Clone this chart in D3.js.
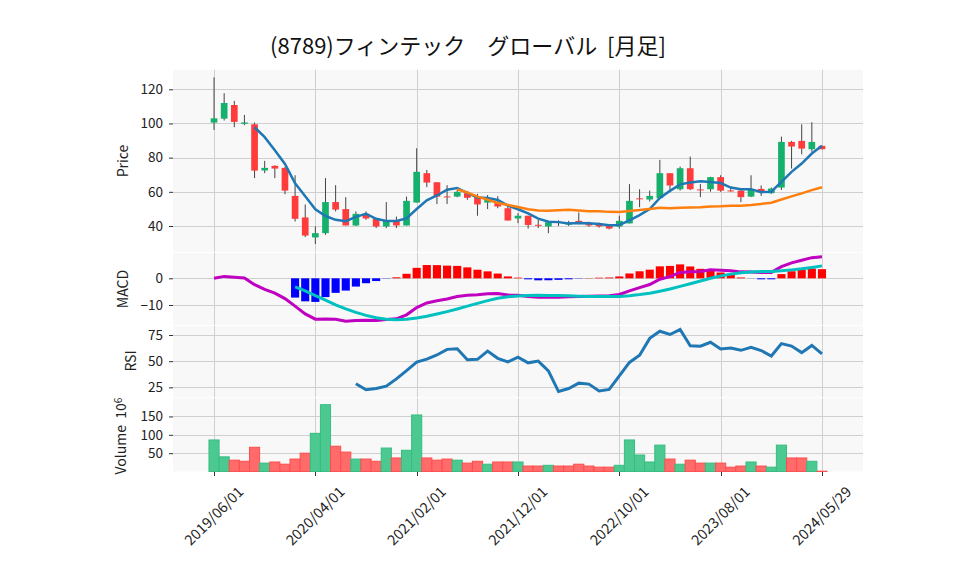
<!DOCTYPE html>
<meta charset="utf-8">
<body style="margin:0;background:#fff">
<script src="https://d3js.org/d3.v7.min.js"></script>
<script>
// monthly OHLC, 2019/06 .. 2024/05/29
var opens  = [100.5,102.8,110.8,99.8,99.5,72.5,75.2,74.0,57.6,45.0,
              33.3,35.8,54.0,49.9,40.3,47.1,44.2,39.7,43.2,40.3,
              53.7,70.9,65.6,57.3,57.2,59.2,57.2,53.7,53.4,50.4,
              44.4,46.0,40.7,39.7,42.4,40.8,43.0,41.7,41.3,40.5,
              39.7,41.5,56.2,55.5,56.3,70.9,61.5,73.8,61.4,61.5,
              68.6,60.8,60.7,57.2,61.7,59.2,62.5,89.2,89.8,84.9,86.9];
var highs  = [127.0,117.7,113.2,105.0,100.5,78.1,75.5,74.5,69.7,52.6,
              39.7,68.0,63.9,56.9,48.5,48.5,44.6,54.0,45.5,57.2,
              85.5,72.8,65.6,63.9,61.1,60.5,58.8,58.1,57.4,52.4,
              47.5,46.0,43.6,43.0,43.3,43.0,47.9,42.5,42.0,41.0,
              46.0,64.5,61.5,60.7,78.7,71.0,74.8,80.6,64.6,68.8,
              69.7,62.7,61.0,69.7,63.7,62.5,92.3,89.8,99.5,100.7,87.0];
var lows   = [96.2,101.7,97.8,99.0,68.0,70.9,68.0,58.6,42.6,33.5,
              29.4,34.8,48.5,40.3,40.0,43.6,38.8,38.8,38.8,40.3,
              53.7,62.7,52.8,52.9,56.8,55.3,46.0,49.9,50.4,43.2,
              41.7,38.5,38.8,35.8,40.0,40.0,41.0,39.5,39.0,38.0,
              38.5,41.5,51.0,54.3,56.3,60.5,60.7,61.0,56.9,60.1,
              60.0,60.1,54.0,56.9,57.6,58.8,61.1,73.6,82.0,83.5,84.9];
var closes = [103.0,112.0,100.9,100.6,72.4,74.0,73.6,60.7,44.2,34.4,
              35.8,54.0,49.6,40.3,47.1,44.4,39.7,43.2,40.3,54.7,
              71.7,65.4,57.2,57.0,60.0,56.5,52.6,55.7,51.4,43.2,
              46.0,40.6,40.4,42.2,42.1,42.0,41.7,40.3,39.7,38.5,
              43.0,54.7,55.9,57.6,70.9,63.7,73.8,61.5,61.1,68.6,
              60.7,60.5,56.9,61.1,59.8,61.9,89.2,86.5,85.3,89.2,84.9];
// volume, millions of shares
var volumes = [86,40,31,28,66,23,26,20,34,50,
               104,182,69,53,34,34,28,64,37,58,
               154,37,31,34,31,23,28,20,26,26,
               26,15,15,17,15,15,20,15,12,12,
               17,86,45,26,72,34,20,31,23,23,
               23,12,15,26,15,12,72,37,37,28,1];

var tickIdx = [0,10,20,30,40,50,60];
var tickLabels = ["2019/06/01","2020/04/01","2021/02/01","2021/12/01","2022/10/01","2023/08/01","2024/05/29"];
var priceTicks = [40,60,80,100,120];
var macdTicks = [0,-10];
var rsiTicks = [25,50,75];
var volTicks = [50,100,150];

var width = 958, height = 575;
var font = "'Noto Sans CJK JP','Noto Sans',sans-serif";

var svg = d3.select("body").append("svg")
    .attr("width", width)
    .attr("height", height)
    .style("font-family", font);

svg.append("rect").attr("width", width).attr("height", height).attr("fill", "#fff");

var x = d3.scaleLinear().domain([-4.05, 64.05]).range([173, 863]);
var slot = x(1) - x(0);
var idx = d3.range(closes.length);

// indicators from the closes
function sma(arr, n) {
  return arr.map(function(d, i) {
    if (i < n - 1) return null;
    return d3.mean(arr.slice(i - n + 1, i + 1));
  });
}
function ema(arr, n) {
  var a = 2 / (n + 1), out = [];
  arr.forEach(function(d, i) { out.push(i === 0 ? d : out[i - 1] + a * (d - out[i - 1])); });
  return out;
}
var ma5 = sma(closes, 5), ma25 = sma(closes, 25);
var e12 = ema(closes, 12), e26 = ema(closes, 26);
var macd = e12.map(function(d, i) { return d - e26[i]; });
var signal = sma(macd, 9);
var hist = macd.map(function(d, i) { return signal[i] == null ? null : d - signal[i]; });
var rsi = closes.map(function(c, i) {
  if (i < 14) return null;
  var g = 0, l = 0;
  for (var k = i - 13; k <= i; k++) {
    var dd = closes[k] - closes[k - 1];
    if (dd > 0) g += dd; else l -= dd;
  }
  return 100 * g / (g + l);
});

var panels = [
  {name: "price", top: 69.3, bottom: 252.3, domain: [24.6, 131.7], ticks: priceTicks},
  {name: "macd", top: 252.3, bottom: 325.3, domain: [-17.6, 9.74], ticks: macdTicks},
  {name: "rsi", top: 325.3, bottom: 397.7, domain: [15.1, 84.3], ticks: rsiTicks},
  {name: "vol", top: 397.7, bottom: 472, domain: [-1.2, 201], ticks: volTicks}
];

var defs = svg.append("defs");
panels.forEach(function(p) {
  p.y = d3.scaleLinear().domain(p.domain).range([p.bottom, p.top]);
  defs.append("clipPath").attr("id", "clip-" + p.name)
    .append("rect").attr("x", 173).attr("y", p.top).attr("width", 690).attr("height", p.bottom - p.top);

  svg.append("rect")
    .attr("x", 173).attr("y", p.top + 0.5)
    .attr("width", 690).attr("height", p.bottom - p.top - 1)
    .attr("fill", "#f8f8f8");

  var grid = svg.append("g").attr("stroke", "#cfcfcf").attr("stroke-width", 1);
  grid.selectAll("line.h").data(p.ticks).enter().append("line")
    .attr("x1", 173).attr("x2", 863)
    .attr("y1", function(d) { return Math.round(p.y(d)) + 0.5; })
    .attr("y2", function(d) { return Math.round(p.y(d)) + 0.5; });
  grid.selectAll("line.v").data(tickIdx).enter().append("line")
    .attr("y1", p.top + 0.5).attr("y2", p.bottom - 0.5)
    .attr("x1", function(d) { return Math.round(x(d)) + 0.5; })
    .attr("x2", function(d) { return Math.round(x(d)) + 0.5; });

  var ax = svg.append("g").attr("transform", "translate(173,0)")
    .call(d3.axisLeft(p.y).tickValues(p.ticks).tickSize(4).tickPadding(6)
      .tickFormat(function(d) { return d < 0 ? "\u2212" + Math.abs(d) : d; }));
  ax.select(".domain").remove();
  ax.selectAll(".tick line").attr("stroke", "#333");
  ax.selectAll(".tick text").attr("fill", "#222").style("font-size", "13.5px").style("font-family", font);

  p.g = svg.append("g").attr("clip-path", "url(#clip-" + p.name + ")");
});

// axis labels
function vlabel(txt, lx, cy) {
  svg.append("text")
    .attr("transform", "translate(" + lx + "," + cy + ")rotate(-90)")
    .attr("text-anchor", "middle")
    .attr("fill", "#222")
    .style("font-size", "14px")
    .text(txt);
}
vlabel("Price", 128, 161);
vlabel("MACD", 128, 289);
vlabel("RSI", 136, 361);
var vl = svg.append("text")
  .attr("transform", "translate(126,436)rotate(-90)")
  .attr("text-anchor", "middle")
  .attr("fill", "#222")
  .style("font-size", "14px")
  .attr("xml:space", "preserve");
vl.append("tspan").text("Volume  10");
vl.append("tspan").attr("dy", "-0.45em").style("font-size", "10px").text("6");

// price panel
var pp = panels[0];
var up = "#15b06b", down = "#ff3b3b";
pp.g.selectAll("line.wick").data(idx).enter().append("line")
  .attr("x1", function(i) { return x(i); }).attr("x2", function(i) { return x(i); })
  .attr("y1", function(i) { return pp.y(highs[i]); })
  .attr("y2", function(i) { return pp.y(lows[i]); })
  .attr("stroke", "#444").attr("stroke-width", 1);
pp.g.selectAll("rect.body").data(idx).enter().append("rect")
  .attr("x", function(i) { return x(i) - slot * 0.33; })
  .attr("width", slot * 0.66)
  .attr("y", function(i) { return pp.y(Math.max(opens[i], closes[i])); })
  .attr("height", function(i) { return Math.max(1, Math.abs(pp.y(opens[i]) - pp.y(closes[i]))); })
  .attr("fill", function(i) { return closes[i] >= opens[i] ? up : down; });

function lineOf(arr, yS) {
  return d3.line().defined(function(i) { return arr[i] != null; })
    .x(function(i) { return x(i); }).y(function(i) { return yS(arr[i]); });
}
pp.g.append("path").attr("d", lineOf(ma5, pp.y)(idx))
  .attr("fill", "none").attr("stroke", "#1f77b4").attr("stroke-width", 2.5);
pp.g.append("path").attr("d", lineOf(ma25, pp.y)(idx))
  .attr("fill", "none").attr("stroke", "#ff7f0e").attr("stroke-width", 2.5);

// macd panel
var mp = panels[1];
mp.g.selectAll("rect.hist").data(idx.filter(function(i) { return hist[i] != null; })).enter().append("rect")
  .attr("x", function(i) { return x(i) - slot * 0.4; })
  .attr("width", slot * 0.8)
  .attr("y", function(i) { return mp.y(Math.max(0, hist[i])); })
  .attr("height", function(i) { return Math.abs(mp.y(hist[i]) - mp.y(0)); })
  .attr("fill", function(i) { return hist[i] >= 0 ? "#ff0000" : "#0000ff"; });
mp.g.append("path").attr("d", lineOf(macd, mp.y)(idx))
  .attr("fill", "none").attr("stroke", "#c000c0").attr("stroke-width", 3);
mp.g.append("path").attr("d", lineOf(signal, mp.y)(idx))
  .attr("fill", "none").attr("stroke", "#00c0c0").attr("stroke-width", 3);

// rsi panel
var rp = panels[2];
rp.g.append("path").attr("d", lineOf(rsi, rp.y)(idx))
  .attr("fill", "none").attr("stroke", "#1f77b4").attr("stroke-width", 3);

// volume panel
var vp = panels[3];
function volUp(i) { return i === 0 ? closes[0] >= opens[0] : closes[i] >= closes[i - 1]; }
vp.g.selectAll("rect.vol").data(idx).enter().append("rect")
  .attr("x", function(i) { return x(i) - slot * 0.5; })
  .attr("width", slot)
  .attr("y", function(i) { return vp.y(volumes[i]); })
  .attr("height", function(i) { return vp.y(0) - vp.y(volumes[i]); })
  .attr("fill", function(i) { return volUp(i) ? "#4cc891" : "#ff6b6b"; })
  .attr("stroke", function(i) { return volUp(i) ? "#35bd80" : "#ff4d4d"; })
  .attr("stroke-width", 1);

// x axis
var xa = svg.append("g");
xa.selectAll("line").data(tickIdx).enter().append("line")
  .attr("x1", function(d) { return Math.round(x(d)) + 0.5; })
  .attr("x2", function(d) { return Math.round(x(d)) + 0.5; })
  .attr("y1", 472).attr("y2", 476)
  .attr("stroke", "#333");
xa.selectAll("text").data(tickIdx).enter().append("text")
  .attr("transform", function(d) { return "translate(" + x(d) + ",516)rotate(-45)"; })
  .attr("text-anchor", "middle")
  .attr("dy", "0.35em")
  .attr("fill", "#222")
  .style("font-size", "14.5px")
  .text(function(d, i) { return tickLabels[i]; });

// title
svg.append("text")
  .attr("x", 468).attr("y", 54)
  .attr("text-anchor", "middle")
  .attr("fill", "#111")
  .attr("xml:space", "preserve")
  .style("white-space", "pre")
  .style("font-size", "22px")
  .text("(8789)フィンテック　グローバル  [月足]");
</script>
</body>
